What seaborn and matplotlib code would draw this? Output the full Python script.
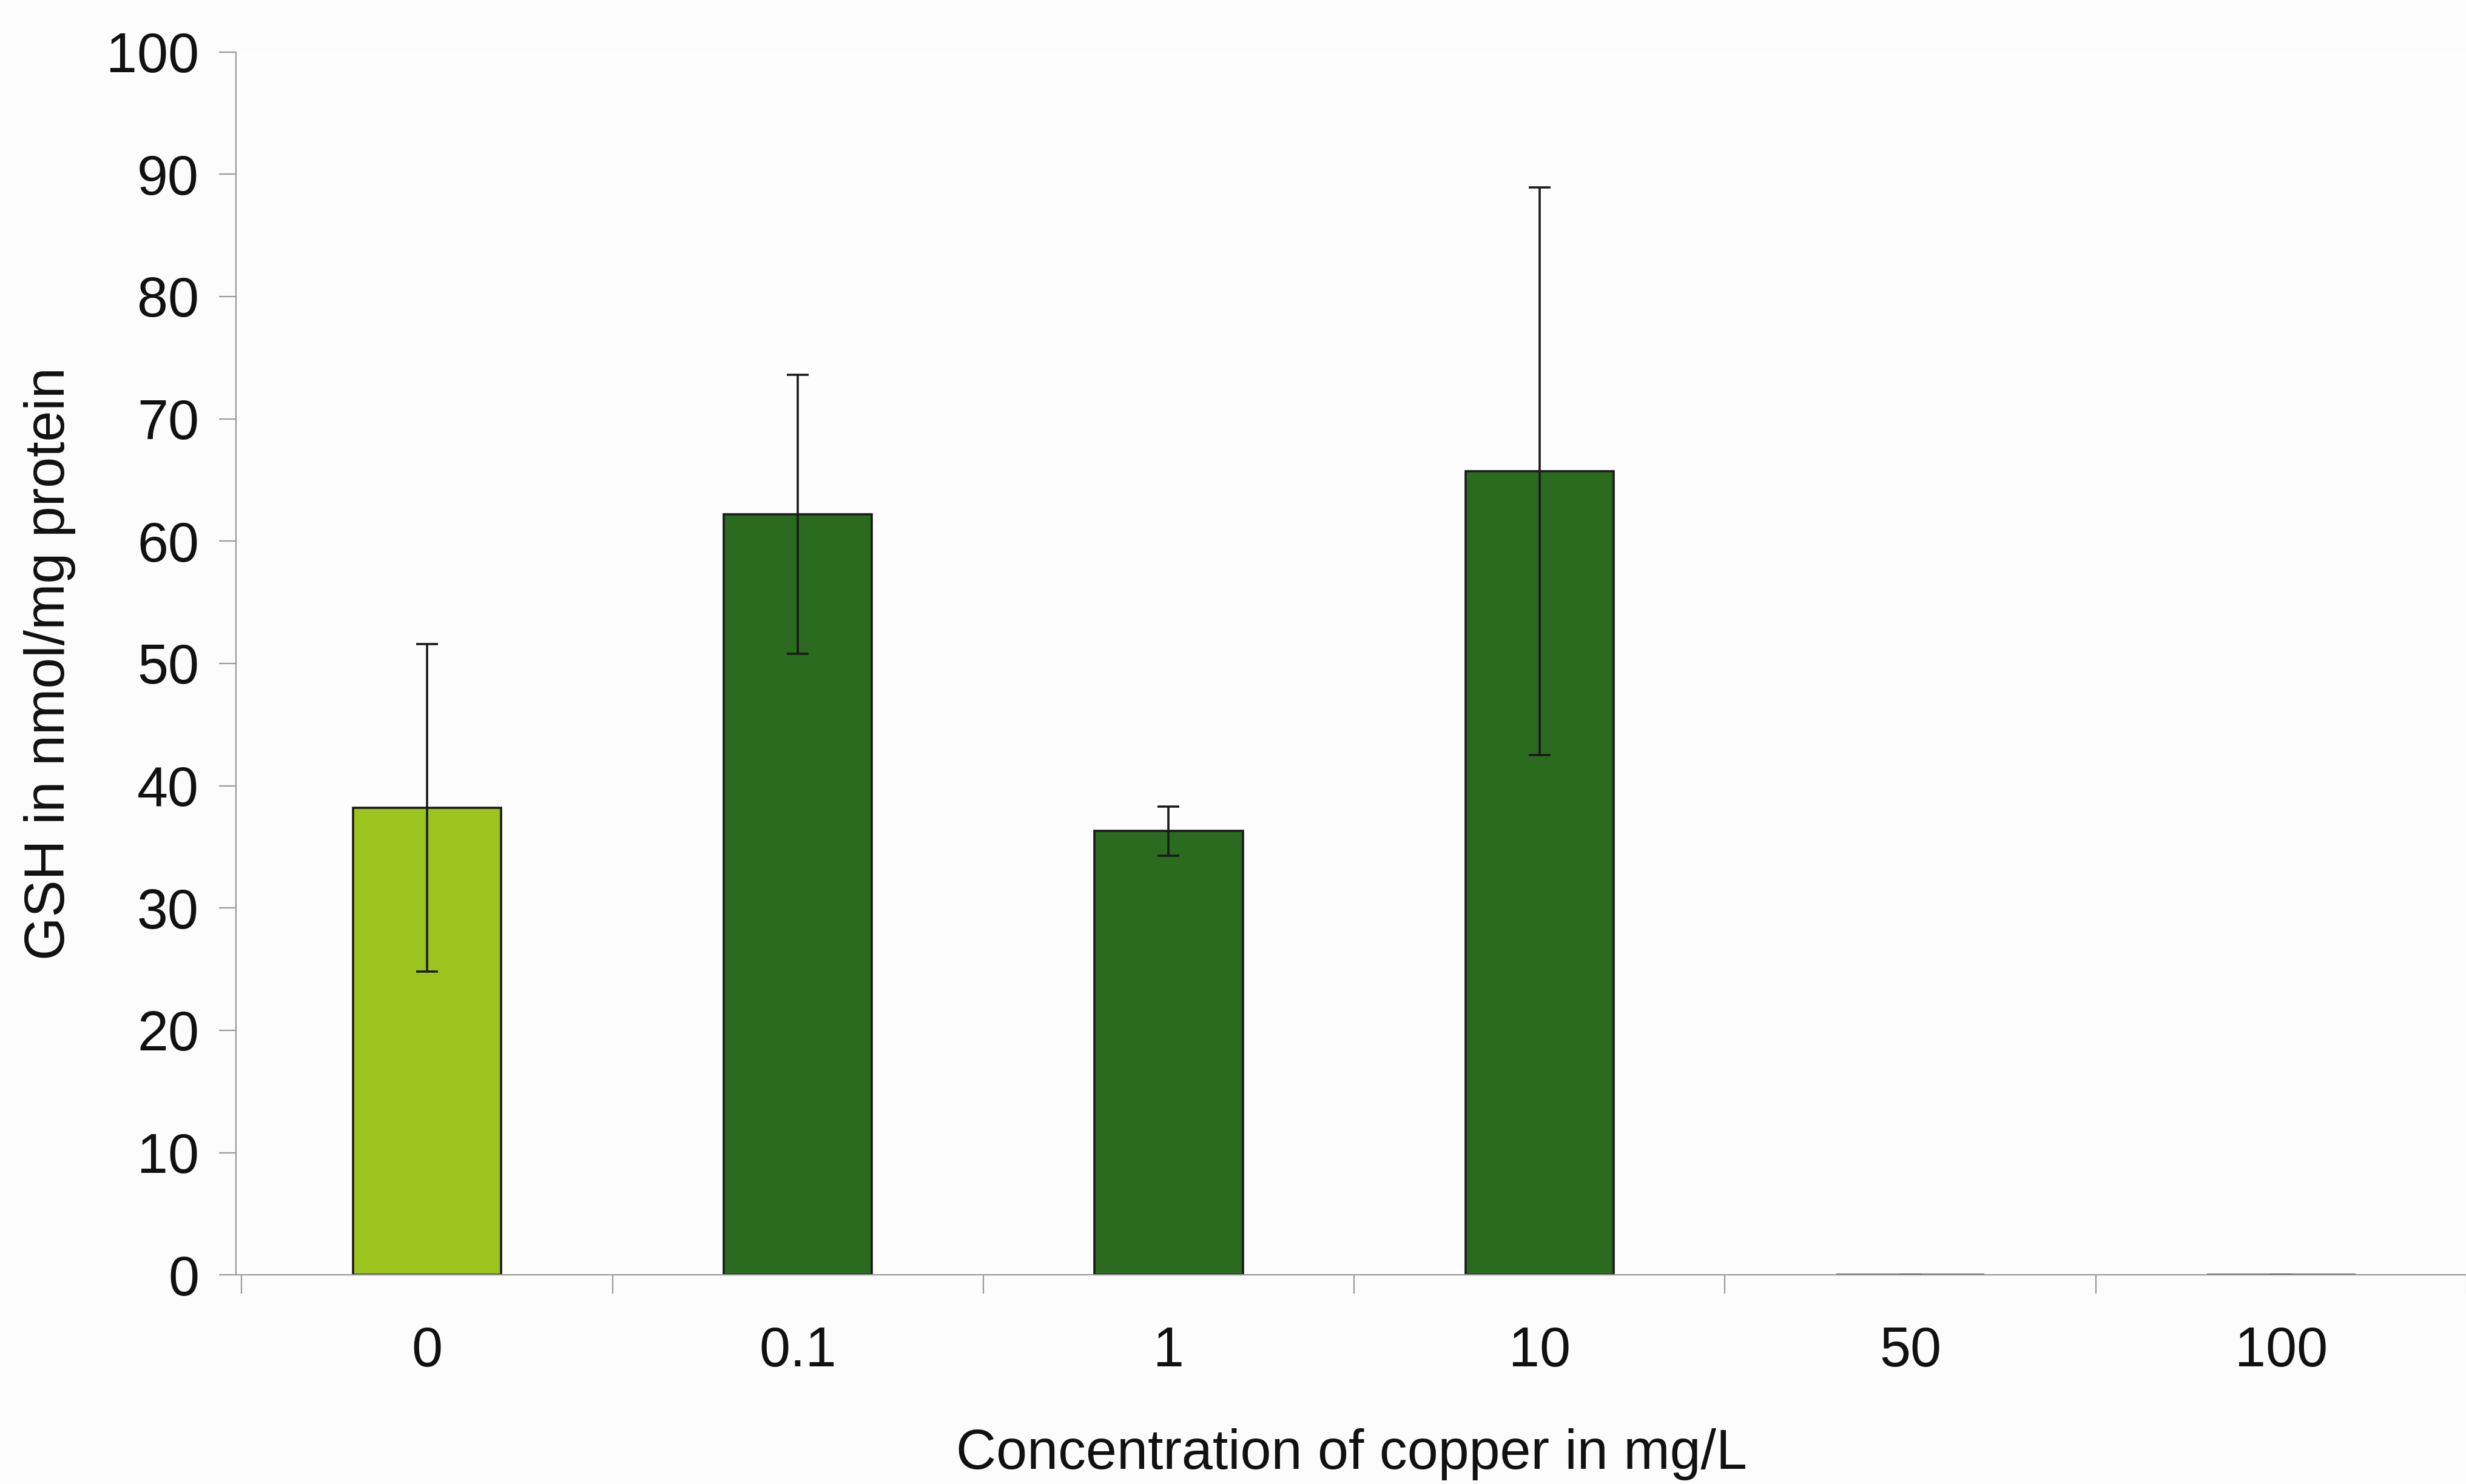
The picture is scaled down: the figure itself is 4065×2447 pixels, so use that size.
# GSH content by copper concentration - bar chart with SD error bars

import numpy as np
import pandas as pd
import matplotlib
matplotlib.use("Agg")
import matplotlib.pyplot as plt
import seaborn as sns

# Data
concentrations = ["0", "0.1", "1", "10", "50", "100"]
gsh_mean = [38.2, 62.2, 36.3, 65.7, 0.0, 0.0]
gsh_sd = [13.4, 11.4, 2.0, 23.2, 0.0, 0.0]

c_light = "#9cc41f"
c_dark = "#2a6b20"
bar_colors = [c_light, c_dark, c_dark, c_dark, c_dark, c_dark]

df = pd.DataFrame({"conc": concentrations, "gsh": gsh_mean, "sd": gsh_sd})

sns.set_theme(style="white")
plt.rcParams.update({
    "font.family": ["Liberation Sans", "DejaVu Sans"],
    "axes.edgecolor": "#9a9a9a",
    "axes.linewidth": 1.6,
    "xtick.color": "#9a9a9a",
    "ytick.color": "#9a9a9a",
    "xtick.labelcolor": "#111111",
    "ytick.labelcolor": "#111111",
    "text.color": "#111111",
    "axes.labelcolor": "#111111",
})

fig = plt.figure(figsize=(40.66, 24.47), dpi=100)
fig.patch.set_facecolor("#fcfcfc")
ax = fig.add_axes([0.0957, 0.1409, 0.9043, 0.8241])
ax.set_facecolor("#fdfdfd")

sns.barplot(data=df, x="conc", y="gsh", hue="conc", palette=bar_colors,
            order=concentrations, legend=False, width=0.4, saturation=1,
            edgecolor="#1a1a1a", linewidth=2.6, ax=ax)

# SD error bars
ax.errorbar(np.arange(len(concentrations)), df["gsh"], yerr=df["sd"],
            fmt="none", ecolor="#1a1a1a", elinewidth=2.6, capsize=13, capthick=2.6)

ax.set_ylim(0, 100)
ax.set_yticks(np.arange(0, 101, 10))
ax.set_xlim(-0.515, 5.413)
ax.set_xticks(np.arange(len(concentrations)))
ax.set_xticklabels(concentrations)
ax.set_xticks(np.arange(-0.5, 6.0, 1.0), minor=True)

ax.tick_params(axis="y", which="major", direction="out", length=20, width=1.6,
               labelsize=66, pad=24, left=True)
ax.tick_params(axis="x", which="major", length=0, labelsize=66, pad=60)
ax.tick_params(axis="x", which="minor", direction="out", length=22, width=1.6, bottom=True)

ax.set_xlabel("Concentration of copper in mg/L", fontsize=66, labelpad=60)
ax.set_ylabel("GSH in nmol/mg protein", fontsize=66, labelpad=36)

sns.despine(ax=ax, top=True, right=True)

fig.savefig("out.png", dpi=100, facecolor=fig.get_facecolor())
